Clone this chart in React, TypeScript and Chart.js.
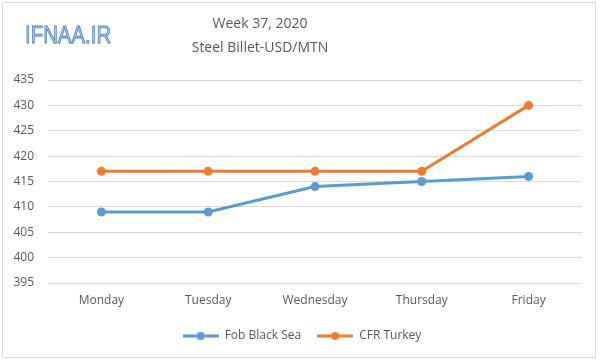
import React, { useEffect, useRef } from "react";
import { Chart, registerables } from "chart.js";

Chart.register(...registerables);

const days = ["Monday", "Tuesday", "Wednesday", "Thursday", "Friday"];
const fobBlackSea = [409, 409, 414, 415, 416];
const cfrTurkey = [417, 417, 417, 417, 430];
const yMin = 395;
const yMax = 435;
const yStep = 5;
const titleLines = ["Week 37, 2020", "Steel Billet-USD/MTN"];
const seriesNames = ["Fob Black Sea", "CFR Turkey"];
const seriesColors = ["#5b9bd5", "#ed7d31"];

const FONT = "'Open Sans', 'Noto Sans', sans-serif";
const TEXT = "#595959";

function legendMarker(color: string): HTMLCanvasElement {
  const c = document.createElement("canvas");
  c.width = 36;
  c.height = 10;
  const ctx = c.getContext("2d")!;
  ctx.strokeStyle = color;
  ctx.lineWidth = 3;
  ctx.beginPath();
  ctx.moveTo(0, 5);
  ctx.lineTo(36, 5);
  ctx.stroke();
  ctx.fillStyle = color;
  ctx.beginPath();
  ctx.arc(18, 5, 4, 0, Math.PI * 2);
  ctx.fill();
  return c;
}

const shiftLegend = {
  id: "shiftLegend",
  afterLayout(chart: any) {
    const lg = chart.legend;
    if (lg) {
      lg.left += 11;
      lg.right += 11;
    }
  },
};

export default function App() {
  const ref = useRef<HTMLCanvasElement>(null);

  useEffect(() => {
    if (!ref.current) return;
    const markers = seriesColors.map(legendMarker);
    const chart = new Chart(ref.current, {
      type: "line",
      data: {
        labels: days,
        datasets: seriesNames.map((name, i) => ({
          label: name,
          data: i === 0 ? fobBlackSea : cfrTurkey,
          borderColor: seriesColors[i],
          backgroundColor: seriesColors[i],
          borderWidth: 3,
          pointRadius: 4.5,
          pointStyle: "circle",
          pointBackgroundColor: seriesColors[i],
          pointBorderWidth: 0,
          tension: 0,
        })),
      },
      options: {
        animation: false,
        responsive: false,
        maintainAspectRatio: false,
        layout: { padding: { top: 80, left: 0, right: 18, bottom: 8 } },
        plugins: {
          title: { display: false },
          tooltip: { enabled: false },
          legend: {
            position: "bottom",
            labels: {
              usePointStyle: true,
              pointStyleWidth: 36,
              padding: 16,
              color: TEXT,
              font: { family: FONT, size: 12 },
              generateLabels: (ch: any) =>
                ch.data.datasets.map((ds: any, i: number) => ({
                  text: ds.label,
                  fillStyle: ds.borderColor,
                  strokeStyle: ds.borderColor,
                  lineWidth: 0,
                  pointStyle: markers[i],
                  datasetIndex: i,
                  hidden: false,
                  fontColor: TEXT,
                })),
            },
          },
        },
        scales: {
          x: {
            offset: true,
            afterFit: (s: any) => {
              s.height = 31;
            },
            grid: { display: false, drawTicks: false },
            border: { display: false },
            ticks: { color: TEXT, font: { family: FONT, size: 12 }, padding: 10, maxRotation: 0 },
          },
          y: {
            min: yMin,
            max: yMax,
            afterFit: (s: any) => {
              s.width = 48;
            },
            grid: { color: "#d9d9d9", drawTicks: false, lineWidth: 1 },
            border: { display: false },
            ticks: { stepSize: yStep, color: TEXT, font: { family: FONT, size: 12 }, padding: 14 },
          },
        },
      },
      plugins: [shiftLegend],
    } as any);
    return () => chart.destroy();
  }, []);

  return (
    <div style={{ position: "fixed", left: 0, top: 0, width: 600, height: 360, background: "#fff" }}>
      <canvas ref={ref} width={600} height={360} style={{ position: "absolute", left: 0, top: 0, width: 600, height: 360 }} />
      <div
        style={{
          position: "absolute",
          left: 2,
          top: 2,
          width: 592,
          height: 354,
          border: "1px solid #d9d9d9",
          pointerEvents: "none",
        }}
      />
      <div
        style={{
          position: "absolute",
          left: 160,
          width: 200,
          top: 11,
          textAlign: "center",
          fontFamily: FONT,
          fontSize: 14,
          lineHeight: "24px",
          color: TEXT,
        }}
      >
        <div>{titleLines[0]}</div>
        <div>{titleLines[1]}</div>
      </div>
      <div
        style={{
          position: "absolute",
          left: 25,
          top: 21,
          fontFamily: "'Liberation Sans', Arial, sans-serif",
          fontSize: 24,
          lineHeight: "28px",
          color: "#a9c9ec",
          WebkitTextStroke: "0.8px #4a80c0",
          transform: "scaleX(0.85)",
          transformOrigin: "left center",
        }}
      >
        IFNAA.IR
      </div>
    </div>
  );
}
